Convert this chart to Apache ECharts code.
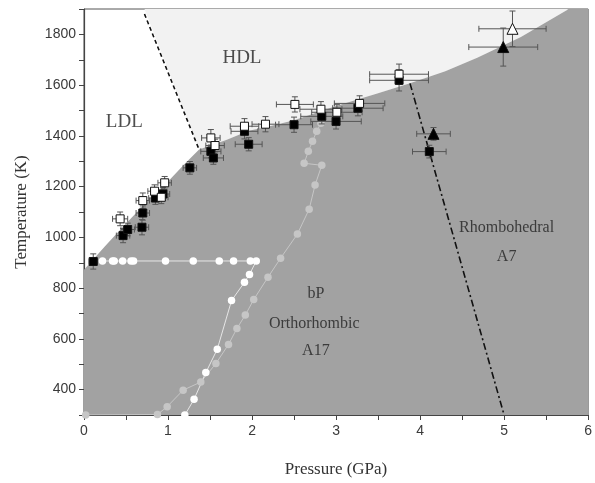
<!DOCTYPE html>
<html>
<head>
<meta charset="utf-8">
<script src="https://cdn.jsdelivr.net/npm/echarts@6/dist/echarts.min.js"></script>
<style>html,body{margin:0;padding:0;background:#fff}#c{width:595px;height:483px}</style>
</head>
<body>
<div id="c"></div>
<script>
// ---- data ----
// melting (solid/liquid) boundary
const meltP = [0, 0.25, 0.5, 0.75, 1.0, 1.2, 1.37, 1.7, 1.96, 2.16, 2.5, 3.0, 3.5, 3.88, 4.3, 4.68, 5.2, 5.77];
const meltT = [872, 965, 1055, 1140, 1220, 1290, 1346, 1385, 1420, 1434, 1462, 1518, 1568, 1607, 1655, 1708, 1790, 1900];
// LDL/HDL dashed boundary
const ldlP = [0.72, 1.37];
const ldlT = [1880, 1346];
// rhombohedral boundary (dash-dot)
const rhP = [3.88, 5.0];
const rhT = [1607, 300];
// white circles path
const whiteP = [0.22, 0.34, 0.36, 0.46, 0.56, 0.59, 0.97, 1.30, 1.61, 1.78, 1.98, 2.05, 1.97, 1.91, 1.756, 1.586, 1.45, 1.31, 1.20];
const whiteT = [907, 907, 907, 907, 907, 907, 907, 907, 907, 907, 907, 907, 854, 823, 751, 559, 467, 362, 300];
// gray circles path
const grayP = [0.02, 0.874, 0.99, 1.18, 1.39, 1.57, 1.72, 1.82, 1.92, 2.02, 2.19, 2.34, 2.54, 2.68, 2.75, 2.83, 2.62, 2.67, 2.72, 2.77, 2.82];
const grayT = [300, 302, 333, 398, 430, 503, 578, 641, 694, 755, 843, 918, 1013, 1111, 1206, 1284, 1292, 1339, 1379, 1418, 1450];
// measurements [P, T, dP, dT]
const closedSquares = [
  [0.11, 905, 0.05, 30], [0.465, 1007, 0.08, 28], [0.52, 1031, 0.08, 25], [0.69, 1040, 0.08, 30],
  [0.70, 1096, 0.08, 28], [0.85, 1155, 0.08, 25], [0.94, 1171, 0.08, 25], [1.26, 1274, 0.08, 25],
  [1.51, 1339, 0.12, 25], [1.54, 1313, 0.12, 25], [1.91, 1418, 0.16, 30], [1.96, 1367, 0.16, 26],
  [2.50, 1444, 0.22, 30], [2.83, 1477, 0.25, 30], [3.00, 1457, 0.3, 30], [3.26, 1509, 0.3, 30],
  [3.75, 1619, 0.35, 42], [4.11, 1338, 0.2, 25]
];
const openSquares = [
  [0.43, 1073, 0.09, 27], [0.70, 1145, 0.08, 30], [0.84, 1182, 0.08, 25], [0.92, 1158, 0.08, 25],
  [0.96, 1215, 0.08, 25], [1.51, 1392, 0.11, 33], [1.56, 1362, 0.11, 25], [1.91, 1438, 0.17, 30],
  [2.16, 1446, 0.16, 30], [2.51, 1524, 0.22, 30], [2.82, 1505, 0.25, 30], [3.01, 1493, 0.3, 30],
  [3.28, 1528, 0.3, 30], [3.75, 1643, 0.35, 40]
];
const closedTriangles = [[4.16, 1408, 0.2, 25], [4.99, 1750, 0.41, 75]];
const openTriangles = [[5.10, 1822, 0.4, 70]];
// region labels [P, T, text, size]
const regionLabels = [
  [0.48, 1454, 'LDL', 19], [1.88, 1705, 'HDL', 19],
  [2.76, 776, 'bP', 16], [2.74, 658, 'Orthorhombic', 16], [2.76, 552, 'A17', 16],
  [5.03, 1036, 'Rhombohedral', 16], [5.03, 922, 'A7', 16]
];
const xTicks = [0, 1, 2, 3, 4, 5, 6];
const yTicks = [400, 600, 800, 1000, 1200, 1400, 1600, 1800];

// ---- helpers ----
const zip = (a, b) => a.map((v, i) => [v, b[i]]);
const melt = zip(meltP, meltT);
// light gray (HDL) polygon: from dashed line top, down to triple point, along melt curve to top
const hdlPoly = [[ldlP[0], 1900]].concat(melt.filter(p => p[0] >= ldlP[1]));
// dark gray (solid) polygon
const solidPoly = [[0, 300]].concat(melt).concat([[6, 1900], [6, 300]]);

function polySeries(poly, color, z) {
  return {
    type: 'custom', z: z, silent: true,
    data: [[0, 300]],
    renderItem: function (params, api) {
      return {
        type: 'polygon',
        shape: { points: poly.map(p => api.coord(p)) },
        style: { fill: color, stroke: null }
      };
    }
  };
}

function errSeries(data) {
  return {
    type: 'custom', z: 5, silent: true,
    data: data,
    renderItem: function (params, api) {
      const x = api.value(0), y = api.value(1), dx = api.value(2), dy = api.value(3);
      const l = api.coord([x - dx, y]), r = api.coord([x + dx, y]);
      const t = api.coord([x, y + dy]), b = api.coord([x, y - dy]);
      const c = 3;
      const st = { stroke: '#555', lineWidth: 1 };
      return {
        type: 'group', children: [
          { type: 'line', shape: { x1: l[0], y1: l[1], x2: r[0], y2: r[1] }, style: st },
          { type: 'line', shape: { x1: t[0], y1: t[1], x2: b[0], y2: b[1] }, style: st },
          { type: 'line', shape: { x1: l[0], y1: l[1] - c, x2: l[0], y2: l[1] + c }, style: st },
          { type: 'line', shape: { x1: r[0], y1: r[1] - c, x2: r[0], y2: r[1] + c }, style: st },
          { type: 'line', shape: { x1: t[0] - c, y1: t[1], x2: t[0] + c, y2: t[1] }, style: st },
          { type: 'line', shape: { x1: b[0] - c, y1: b[1], x2: b[0] + c, y2: b[1] }, style: st }
        ]
      };
    }
  };
}

function markerSeries(data, symbol, size, fill, z) {
  return {
    type: 'scatter', z: z, silent: true, symbol: symbol, symbolSize: size,
    data: data.map(d => [d[0], d[1]]),
    itemStyle: { color: fill, borderColor: '#111', borderWidth: 1, opacity: 1 }
  };
}

const chart = echarts.init(document.getElementById('c'));
const option = {
  animation: false,
  backgroundColor: '#fff',
  grid: { left: 84, right: 3, top: 9, bottom: 68, show: true, borderColor: '#555', borderWidth: 1, backgroundColor: '#fff' },
  xAxis: {
    type: 'value', min: 0, max: 6, interval: 0.5,
    name: 'Pressure (GPa)', nameLocation: 'middle', nameGap: 46,
    nameTextStyle: { fontFamily: 'Liberation Serif', fontSize: 17, color: '#333' },
    axisLine: { show: true, onZero: false, lineStyle: { color: '#444', width: 1.2 } },
    axisTick: { show: true, length: 5, lineStyle: { color: '#444' } },
    axisLabel: {
      fontFamily: 'Liberation Sans', fontSize: 14, color: '#3a3a3a', margin: 9,
      formatter: v => (xTicks.indexOf(v) >= 0 ? String(v) : '')
    },
    splitLine: { show: false }
  },
  yAxis: {
    type: 'value', min: 300, max: 1900, interval: 100,
    name: 'Temperature (K)', nameLocation: 'middle', nameGap: 54,
    nameTextStyle: { fontFamily: 'Liberation Serif', fontSize: 17, color: '#333' },
    axisLine: { show: true, lineStyle: { color: '#444', width: 1.2 } },
    axisTick: { show: true, length: 5, lineStyle: { color: '#444' } },
    axisLabel: {
      fontFamily: 'Liberation Sans', fontSize: 14, color: '#3a3a3a', margin: 8,
      formatter: v => (yTicks.indexOf(v) >= 0 ? String(v) : '')
    },
    splitLine: { show: false }
  },
  series: [
    polySeries(hdlPoly, '#f2f2f2', 1),
    polySeries(solidPoly, '#a2a2a2', 1),
    { type: 'line', z: 3, silent: true, showSymbol: false, data: zip(ldlP, ldlT),
      lineStyle: { color: '#111', width: 1.6, type: [4, 3] } },
    { type: 'line', z: 3, silent: true, showSymbol: false, data: zip(rhP, rhT),
      lineStyle: { color: '#111', width: 1.6, type: [7, 3, 2, 3] } },
    { type: 'line', z: 4, silent: true, data: zip(grayP, grayT), symbol: 'circle', symbolSize: 7.5,
      lineStyle: { color: '#c6c6c6', width: 1 }, itemStyle: { color: '#c6c6c6', borderWidth: 0 } },
    { type: 'line', z: 4, silent: true, data: zip(whiteP, whiteT), symbol: 'circle', symbolSize: 7.5,
      lineStyle: { color: '#e6e6e6', width: 1 }, itemStyle: { color: '#ffffff', borderWidth: 0 } },
    errSeries(closedSquares.concat(openSquares, closedTriangles, openTriangles)),
    markerSeries(closedSquares, 'rect', 8, '#000', 6),
    markerSeries(openSquares, 'rect', 8, '#fff', 7),
    markerSeries(closedTriangles, 'triangle', 11, '#000', 7),
    markerSeries(openTriangles, 'triangle', 11, '#fff', 7),
    {
      type: 'scatter', z: 8, silent: true, symbolSize: 0,
      data: regionLabels.map(d => ({ value: [d[0], d[1]], name: d[2], size: d[3] })),
      label: {
        show: true, position: 'inside', color: '#222', fontFamily: 'Liberation Serif',
        formatter: p => p.name
      }
    }
  ]
};
// set per-label font sizes
option.series[option.series.length - 1].data.forEach(d => { d.label = { fontSize: d.size }; });
chart.setOption(option);
</script>
</body>
</html>
